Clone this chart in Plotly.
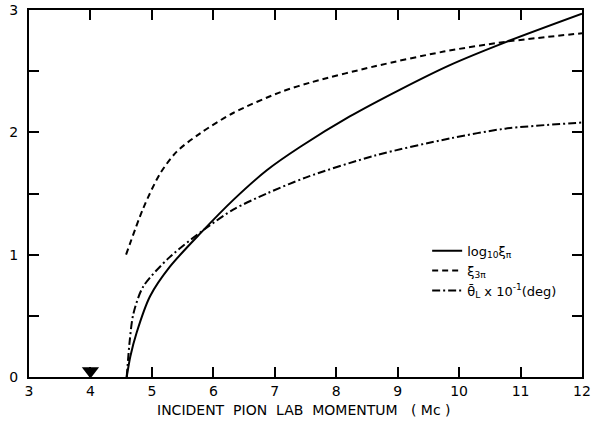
import plotly.graph_objects as go

# log10 xi_pi (solid)
solid_x = [4.59, 4.65, 4.75, 4.97, 5.29, 5.80, 6.33, 6.87, 7.41, 8.22, 9.04, 9.85, 10.77, 12.0]
solid_y = [0.0, 0.17, 0.36, 0.66, 0.90, 1.18, 1.45, 1.69, 1.88, 2.13, 2.35, 2.55, 2.74, 2.97]

# xi_3pi (dashed)
dash_x = [4.58, 4.86, 5.13, 5.40, 5.78, 6.33, 7.10, 7.60, 8.63, 9.75, 10.75, 12.0]
dash_y = [1.0, 1.38, 1.66, 1.84, 1.99, 2.16, 2.33, 2.41, 2.54, 2.66, 2.74, 2.81]

# theta_L x 10^-1 (deg) (dash-dot)
dd_x = [4.59, 4.64, 4.70, 4.86, 5.29, 5.89, 6.33, 6.87, 7.50, 8.63, 9.85, 10.75, 12.0]
dd_y = [0.0, 0.30, 0.52, 0.74, 0.98, 1.22, 1.37, 1.50, 1.63, 1.81, 1.95, 2.03, 2.08]

marker_x = [4.0]
marker_y = [0.05]

x_ticks = [3, 4, 5, 6, 7, 8, 9, 10, 11, 12]
y_tickvals = [0, 0.5, 1, 1.5, 2, 2.5, 3]
y_ticktext = ["0", "", "1", "", "2", "", "3"]
x_title = "INCIDENT  PION  LAB  MOMENTUM   ( Mc )"

font = dict(family="DejaVu Sans", size=14, color="black")

fig = go.Figure()
fig.add_trace(go.Scatter(x=solid_x, y=solid_y, mode="lines",
                         line=dict(color="black", width=2, shape="spline", smoothing=0.8),
                         name="log<sub>10</sub>ξ<sub>π</sub>"))
fig.add_trace(go.Scatter(x=dash_x, y=dash_y, mode="lines",
                         line=dict(color="black", width=2, dash="6px,4px", shape="spline", smoothing=0.8),
                         name="ξ<sub>3π</sub>"))
fig.add_trace(go.Scatter(x=dd_x, y=dd_y, mode="lines",
                         line=dict(color="black", width=2, dash="8px,3px,2px,3px", shape="spline", smoothing=0.8),
                         name="θ\u0304<sub>L</sub> x 10<sup>-1</sup>(deg)"))
fig.add_trace(go.Scatter(x=marker_x, y=marker_y, mode="markers", showlegend=False, cliponaxis=False,
                         marker=dict(symbol="triangle-down", size=15, color="black")))

fig.add_annotation(text=x_title, xref="paper", yref="paper", x=0.497, y=-0.09,
                   xanchor="center", yanchor="middle", showarrow=False, font=dict(size=14))

fig.update_layout(
    width=593, height=429,
    margin=dict(l=29, r=11, t=10, b=52),
    paper_bgcolor="white", plot_bgcolor="white",
    font=font,
    showlegend=True,
    legend=dict(x=0.72, y=0.385, xanchor="left", yanchor="top", bgcolor="rgba(0,0,0,0)",
                font=dict(family="DejaVu Sans", size=13, color="black"), tracegroupgap=0,
                itemwidth=30),
    xaxis=dict(range=[3, 12], tickvals=x_ticks, ticks="inside", ticklen=10, tickwidth=1.5,
               tickcolor="black", showline=True, linecolor="black", linewidth=2, mirror="ticks",
               showgrid=False, zeroline=False, automargin=False),
    yaxis=dict(range=[0, 3], tickvals=y_tickvals, ticktext=y_ticktext, ticks="inside", ticklen=10,
               tickwidth=1.5, tickcolor="black", showline=True, linecolor="black", linewidth=2,
               mirror="ticks", showgrid=False, zeroline=False, automargin=False,
               ticklabelstandoff=6),
)

fig.write_html("out.html", config={"displayModeBar": False},
               post_script="document.body.style.margin='0';")
